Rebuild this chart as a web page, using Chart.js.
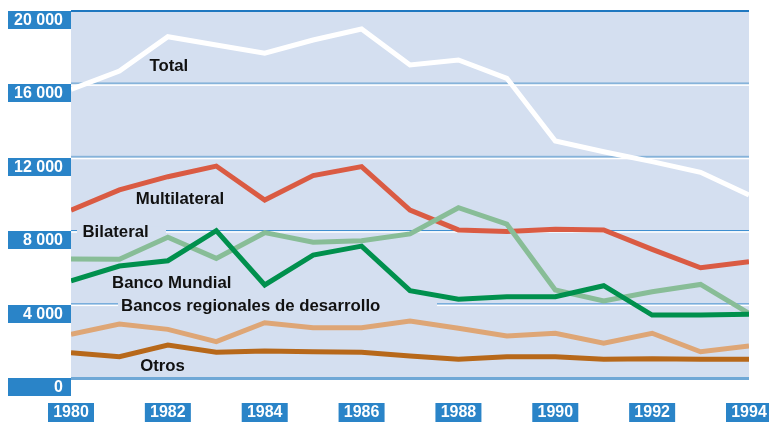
<!DOCTYPE html>
<html>
<head>
<meta charset="utf-8">
<script src="https://cdn.jsdelivr.net/npm/chart.js@4"></script>
<style>
  html, body { margin: 0; padding: 0; background: #ffffff; }
  #wrap { width: 769px; height: 425px; }
</style>
</head>
<body>
<div id="wrap"><canvas id="chart" width="769" height="425"></canvas></div>
<script>
// Years and values
const years = ['1980', '1981', '1982', '1983', '1984', '1985', '1986', '1987',
               '1988', '1989', '1990', '1991', '1992', '1993', '1994'];
const xTickLabels = ['1980', '1982', '1984', '1986', '1988', '1990', '1992', '1994'];

const total         = [15730, 16730, 18600, 18150, 17700, 18420, 19020, 17060, 17330, 16330, 12920, 12330, 11790, 11210, 9970];
const multilateral  = [9150, 10250, 10970, 11550, 9700, 11030, 11520, 9150, 8070, 7980, 8100, 8070, 7010, 6010, 6340];
const bilateral     = [6490, 6470, 7670, 6520, 7920, 7400, 7480, 7850, 9280, 8380, 4800, 4200, 4700, 5100, 3520];
const bancoMundial  = [5300, 6100, 6390, 8030, 5070, 6700, 7190, 4760, 4290, 4430, 4430, 5030, 3430, 3430, 3470];
const bancosRegion  = [2380, 2940, 2650, 1980, 3010, 2740, 2740, 3110, 2710, 2290, 2440, 1890, 2440, 1430, 1740];
const otros         = [1380, 1160, 1800, 1400, 1470, 1430, 1400, 1200, 1020, 1160, 1160, 1020, 1050, 1020, 1020];

const plotBg = '#d4dff0';
const boxBlue = '#2a84c8';
const font = '"Liberation Sans", Arial, sans-serif';

// Series labels placed in data coordinates (year, value)
const seriesLabels = [
  { text: 'Total', year: 1982.02, value: 17000 },
  { text: 'Multilateral', year: 1982.25, value: 9750 },
  { text: 'Bilateral', year: 1980.92, value: 7950, maskFrom: 77, maskTo: 166 },
  { text: 'Banco Mundial', year: 1982.08, value: 5180 },
  { text: 'Bancos regionales de desarrollo', year: 1983.71, value: 3880, maskFrom: 118, maskTo: 437 },
  { text: 'Otros', year: 1981.89, value: 620 }
];

function fmt(v) {
  return String(v).replace(/\B(?=(\d{3})+(?!\d))/g, ' ');
}

const decor = {
  id: 'decor',
  beforeDatasetsDraw(chart) {
    const { ctx, chartArea: a, scales: { y } } = chart;
    ctx.save();
    ctx.fillStyle = plotBg;
    ctx.fillRect(a.left, a.top, a.right - a.left, a.bottom - a.top);
    y.ticks.forEach(t => {
      const py = y.getPixelForValue(t.value);
      if (t.value === 0) {
        ctx.fillStyle = '#6fa8d6';
        ctx.fillRect(a.left, py - 1, a.right - a.left, 3);
      } else if (t.value === 20000) {
        ctx.fillStyle = '#1f78c0';
        ctx.fillRect(a.left, py - 1, a.right - a.left, 2);
      } else {
        const thick = t.value >= 12000 ? 2 : 1.2;
        ctx.fillStyle = t.value >= 12000 ? '#86b3da' : '#3f8fd0';
        ctx.fillRect(a.left, py - thick, a.right - a.left, thick);
        ctx.fillStyle = '#ffffff';
        ctx.fillRect(a.left, py, a.right - a.left, 1.5);
      }
    });
    // label backgrounds hiding the grid lines
    seriesLabels.forEach(l => {
      if (l.maskFrom === undefined) return;
      const py = y.getPixelForValue(l.value);
      ctx.fillStyle = plotBg;
      ctx.fillRect(l.maskFrom, py - 6, l.maskTo - l.maskFrom, 12);
    });
    ctx.restore();
  },
  afterDraw(chart) {
    const { ctx, chartArea: a, scales: { x, y } } = chart;
    ctx.save();
    // series names
    ctx.fillStyle = '#111111';
    ctx.font = 'bold 16.8px ' + font;
    ctx.textAlign = 'center';
    ctx.textBaseline = 'middle';
    seriesLabels.forEach(l => {
      ctx.fillText(l.text, x.getPixelForValue(l.year - 1980), y.getPixelForValue(l.value));
    });
    // y tick boxes
    ctx.font = 'bold 16px ' + font;
    ctx.textAlign = 'right';
    y.ticks.forEach(t => {
      const py = Math.round(y.getPixelForValue(t.value));
      ctx.fillStyle = boxBlue;
      ctx.fillRect(8, py, a.left - 8, 18);
      ctx.fillStyle = '#ffffff';
      ctx.fillText(fmt(t.value), a.left - 8, py + 10);
    });
    // x tick boxes
    ctx.textAlign = 'center';
    xTickLabels.forEach(lab => {
      const px = x.getPixelForValue(years.indexOf(lab));
      ctx.fillStyle = boxBlue;
      ctx.fillRect(px - 23, 403, 46, 19);
      ctx.fillStyle = '#ffffff';
      ctx.fillText(lab, px, 413);
    });
    ctx.restore();
  }
};

function line(label, data, color, width) {
  return {
    label: label,
    data: data,
    borderColor: color,
    borderWidth: width,
    pointRadius: 0,
    tension: 0,
    fill: false,
    clip: 0,
    borderJoinStyle: 'miter',
    borderCapStyle: 'butt'
  };
}

const ctx = document.getElementById('chart').getContext('2d');
const chart = new Chart(ctx, {
  type: 'line',
  data: {
    labels: years,
    // first dataset is drawn on top
    datasets: [
      line('Total', total, '#ffffff', 5),
      line('Banco Mundial', bancoMundial, '#00904d', 5),
      line('Bilateral', bilateral, '#88bd97', 5),
      line('Multilateral', multilateral, '#da5b43', 5),
      line('Bancos regionales de desarrollo', bancosRegion, '#dea676', 5),
      line('Otros', otros, '#b7681a', 5)
    ]
  },
  options: {
    responsive: false,
    animation: false,
    layout: { padding: { left: 71, right: 20, top: 11, bottom: 47 } },
    plugins: { legend: { display: false }, tooltip: { enabled: false } },
    scales: {
      x: { display: false, offset: false },
      y: { display: false, min: 0, max: 20000, ticks: { stepSize: 4000 } }
    }
  },
  plugins: [decor]
});
</script>
</body>
</html>
